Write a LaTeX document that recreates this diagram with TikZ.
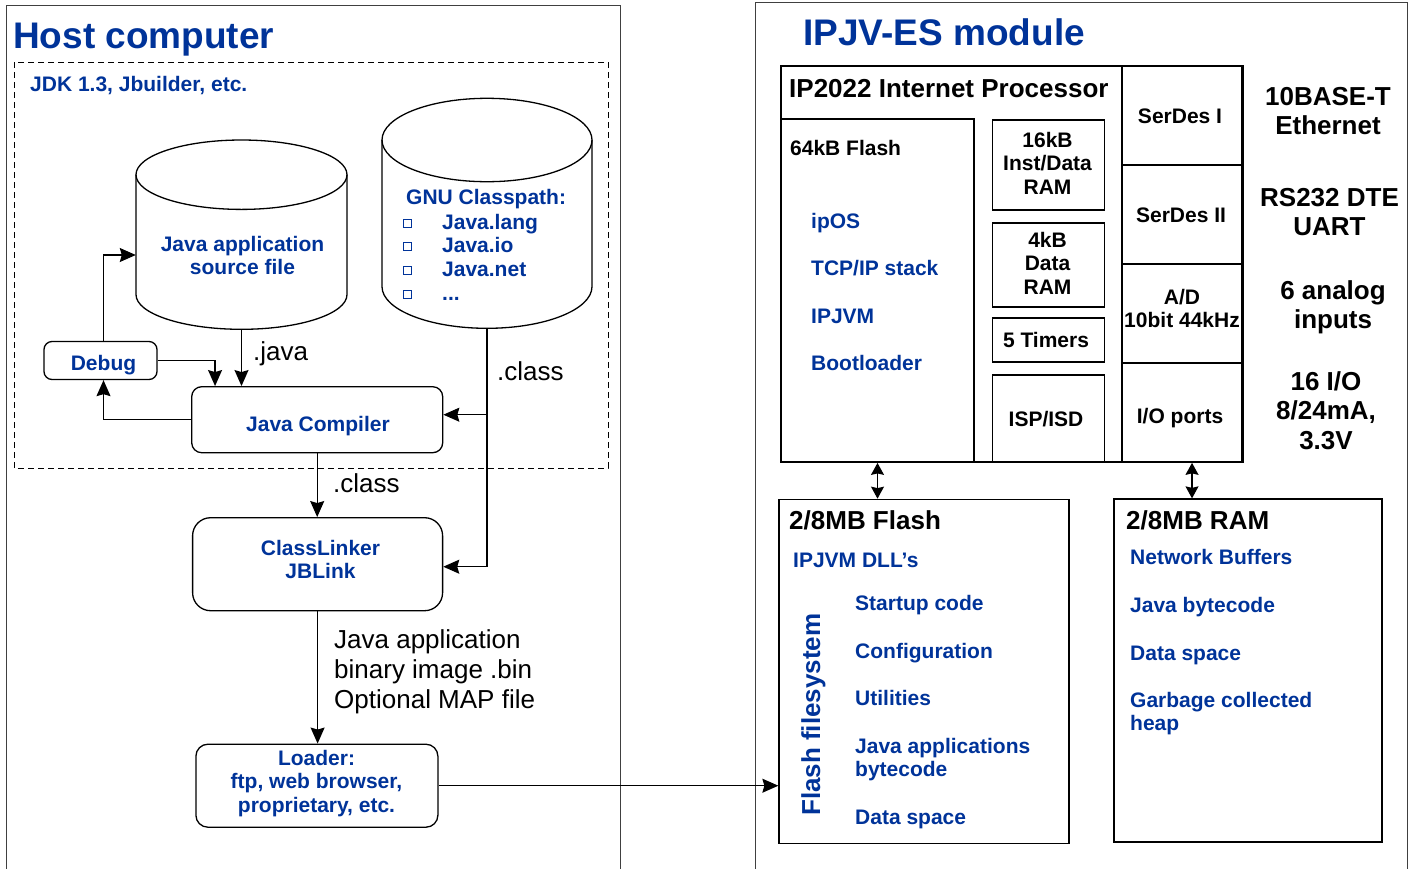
\documentclass[tikz,border=0pt]{standalone}
\usepackage{fontspec}
\setmainfont{Liberation Sans}
\usepackage{tikz}
\usetikzlibrary{arrows.meta}
\definecolor{jblue}{RGB}{0,51,153}

\begin{document}
\begin{tikzpicture}[x=1pt,y=-1pt]
  \tikzstyle{blu}=[text=jblue, font=\bfseries\fontsize{21}{23.7}\selectfont, inner sep=0pt]
  \tikzstyle{blk}=[font=\bfseries\fontsize{21}{23.7}\selectfont, inner sep=0pt]
  \tikzstyle{big}=[font=\bfseries\fontsize{26}{29.5}\selectfont, inner sep=0pt]
  \tikzstyle{lbl}=[font=\fontsize{26}{30}\selectfont, inner sep=0pt]
  \tikzstyle{ttl}=[text=jblue, font=\bfseries\fontsize{37}{40}\selectfont, inner sep=0pt]
  \tikzstyle{rbox}=[draw, line width=1.3pt, rounded corners=10pt, inner sep=0pt]
  \tikzstyle{cell}=[draw, line width=1.8pt, inner sep=0pt]
  \tikzstyle{mem}=[draw, line width=1.3pt, inner sep=0pt]
  \tikzstyle{arr}=[line width=1.2pt, -{Stealth[length=16pt,width=14pt,inset=2pt]}]
  \tikzstyle{dbl}=[line width=1.2pt, {Stealth[length=12pt,width=13pt,inset=1.5pt]}-{Stealth[length=12pt,width=13pt,inset=1.5pt]}]

  \useasboundingbox (0,0) rectangle (1412,868);

  % frames
  \draw[line width=1pt, black!75] (6,870) -- (6,5) -- (620,5) -- (620,870);
  \draw[line width=1pt, black!75] (755,870) -- (755,2) -- (1407,2) -- (1407,870);
  \draw[line width=1pt, dash pattern=on 6pt off 4pt] (14,62) rectangle (608,468);

  \node[ttl, anchor=base west] (hosttl) at (13,48) {Host computer};
  \node[ttl, anchor=base west] (modtl) at (803,45) {IPJV-ES module};
  \node[blu, anchor=base west] (jdk) at (30,91) {JDK 1.3, Jbuilder, etc.};

  % host side
  \draw[line width=1.3pt, fill=white] (136,174.7) -- (136,294.6) arc[start angle=180, end angle=0, x radius=105.5, y radius=34.7] -- (347,174.7);
  \draw[line width=1.3pt] (241.5,174.7) ellipse[x radius=105.5, y radius=34.7];
  \node[minimum width=211, minimum height=190, inner sep=0pt] (srcdb) at (241.5,235) {};
  \node[blu, align=center, anchor=north] (srctxt) at (242.5,235.7) {Java application\\source file};

  \draw[line width=1.3pt, fill=white] (382,140) -- (382,286.6) arc[start angle=180, end angle=0, x radius=105, y radius=41.7] -- (592,140);
  \draw[line width=1.3pt] (487,140) ellipse[x radius=105, y radius=41.7];
  \node[minimum width=210, minimum height=230, inner sep=0pt] (gnu) at (487,213.3) {};
  \node[blu, anchor=base west] (cphead) at (406,204) {GNU Classpath:};
  \node[blu, align=left, anchor=north west] (cplist) at (442,213.7) {Java.lang\\Java.io\\Java.net\\...};
  \foreach \i in {0,...,3}
    \node[draw=jblue, line width=1pt, minimum size=8pt, inner sep=0pt] (sq\i) at (407.5,223.3+23.6*\i) {};

  \node[rbox, rounded corners=8pt, minimum width=113, minimum height=38] (debug) at (100.5,360.5) {};
  \node[blu, anchor=base] (debugtxt) at (103.5,370) {Debug};
  \node[rbox, minimum width=251, minimum height=66] (comp) at (317.2,419.7) {};
  \node[blu, anchor=base] (comptxt) at (318,431) {Java Compiler};
  \node[rbox, rounded corners=18pt, minimum width=250, minimum height=93] (linker) at (317.6,564.2) {};
  \node[blu, align=center, anchor=north] (linktxt) at (320.5,539.7) {ClassLinker\\JBLink};
  \node[rbox, rounded corners=12pt, minimum width=242, minimum height=83] (loader) at (316.9,785.7) {};
  \node[blu, align=center, anchor=north] (loadtxt) at (316.5,749.7) {Loader:\\ftp, web browser,\\proprietary, etc.};

  \coordinate (cpin) at ([yshift=5pt]comp.east);
  \draw[arr] (srcdb.south) -- (srcdb.south |- comp.north);
  \draw[arr] (debug.east) -| ([xshift=24pt]comp.north west);
  \draw[arr] (comp.west) -| ([xshift=3pt]debug.south);
  \draw[arr] ([xshift=3pt]debug.north) |- ([yshift=-20pt]srcdb.west);
  \draw[arr] (gnu.south) |- ([yshift=-2.5pt]linker.east);
  \draw[arr] (gnu.south |- cpin) -- (cpin);
  \draw[arr] (comp.south) -- (comp.south |- linker.north);
  \draw[arr] (linker.south) -- (linker.south |- loader.north);

  \node[lbl, anchor=base west] (javalbl) at (253,360) {.java};
  \node[lbl, anchor=base west] (clslbl) at (497,380) {.class};
  \node[lbl, anchor=base west] (clslblb) at (333,492) {.class};
  \node[lbl, align=left, anchor=north west] (binlbl) at (334,629) {Java application\\binary image .bin\\Optional MAP file};

  % module side
  \node[cell, minimum width=462, minimum height=396] (ip) at (1012,264) {};
  \node[cell, minimum width=120, minimum height=98.7] (serdesa) at (1182,115.3) {};
  \node[cell, minimum width=120, minimum height=99.3] (serdesb) at (1182,214.3) {};
  \node[cell, minimum width=120, minimum height=98.7] (adc) at (1182,313.3) {};
  \node[cell, minimum width=120, minimum height=99.3] (ioports) at (1182,412.3) {};
  \node[cell, minimum width=193, minimum height=343] (flashb) at (877.5,290.5) {};
  \node[cell, minimum width=112, minimum height=90] (ramb) at (1048.5,165) {};
  \node[cell, minimum width=112, minimum height=84] (dramb) at (1048.5,264.7) {};
  \node[cell, minimum width=112, minimum height=44.3] (timers) at (1048.5,340.2) {};
  \node[cell, minimum width=112, minimum height=87] (isp) at (1048.5,418.5) {};

  \node[big, anchor=base west] (iptxt) at (789,97) {IP2022 Internet Processor};
  \node[blk, anchor=base west] (fbtxt) at (790,155) {64kB Flash};
  \node[blu, anchor=base west] (ipos) at (811,228) {ipOS};
  \node[blu, anchor=base west] (tcpip) at (811,275) {TCP/IP stack};
  \node[blu, anchor=base west] (ipjvm) at (811,323) {IPJVM};
  \node[blu, anchor=base west] (boot) at (811,370) {Bootloader};
  \node[blk, align=center, anchor=north] (rambtxt) at (1047.5,131.7) {16kB\\Inst/Data\\RAM};
  \node[blk, align=center, anchor=north] (drambtxt) at (1047.5,231.7) {4kB\\Data\\RAM};
  \node[blk, anchor=base] (timtxt) at (1046,347) {5 Timers};
  \node[blk, anchor=base] (isptxt) at (1046,426) {ISP/ISD};
  \node[blk, anchor=base] (satxt) at (1180,123) {SerDes I};
  \node[blk, anchor=base] (sbtxt) at (1181,222) {SerDes II};
  \node[blk, align=center, anchor=north] (adtxt) at (1182,288.7) {A/D\\10bit 44kHz};
  \node[blk, anchor=base] (iotxt) at (1180,423) {I/O ports};

  \node[big, align=center, anchor=north] (ethtxt) at (1328,87) {10BASE-T\\Ethernet};
  \node[big, align=center, anchor=north] (uarttxt) at (1329.5,188) {RS232 DTE\\UART};
  \node[big, align=center, anchor=north] (anatxt) at (1333,280) {6 analog\\inputs};
  \node[big, align=center, anchor=north] (gpiotxt) at (1326,371) {16 I/O\\8/24mA,\\3.3V};

  \node[mem, minimum width=290, minimum height=344] (flash) at (924,671.3) {};
  \node[mem, minimum width=268, minimum height=343] (ram) at (1248,670.5) {};
  \coordinate (ramtop) at ([xshift=10pt]ioports.south);
  \draw[dbl] (flashb.south) -- (flashb.south |- flash.north);
  \draw[dbl] (ramtop) -- (ramtop |- ram.north);
  \draw[arr] (loader.east) -- (loader.east -| flash.west);

  \node[big, anchor=base west] (fltitle) at (789,529) {2/8MB Flash};
  \node[blu, anchor=base west] (dll) at (793,567) {IPJVM DLL’s};
  \node[text=jblue, font=\bfseries\fontsize{26}{30}\selectfont, inner sep=0pt, rotate=90, anchor=base west] (ffs) at (820,816) {Flash filesystem};
  \node[blu, anchor=base west] (startup) at (855,610) {Startup code};
  \node[blu, anchor=base west] (config) at (855,658) {Configuration};
  \node[blu, anchor=base west] (utils) at (855,705) {Utilities};
  \node[blu, align=left, anchor=north west] (apps) at (855,737.7) {Java applications\\bytecode};
  \node[blu, anchor=base west] (fdata) at (855,824) {Data space};

  \node[big, anchor=base west] (ramtitle) at (1126,529) {2/8MB RAM};
  \node[blu, anchor=base west] (netbuf) at (1130,564) {Network Buffers};
  \node[blu, anchor=base west] (jbyte) at (1130,612) {Java bytecode};
  \node[blu, anchor=base west] (rdata) at (1130,660) {Data space};
  \node[blu, align=left, anchor=north west] (heap) at (1130,691.7) {Garbage collected\\heap};
\end{tikzpicture}
\end{document}
